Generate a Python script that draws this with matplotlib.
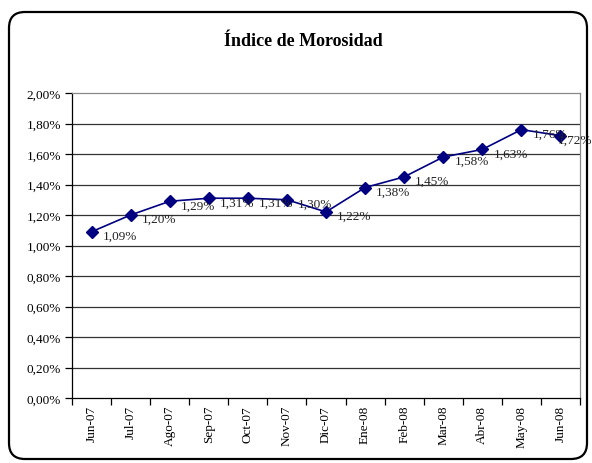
import matplotlib
matplotlib.use("Agg")
import matplotlib.pyplot as plt
from matplotlib.patches import FancyBboxPatch
from matplotlib.transforms import IdentityTransform
import numpy as np

categories = ["Jun-07", "Jul-07", "Ago-07", "Sep-07", "Oct-07", "Nov-07", "Dic-07",
              "Ene-08", "Feb-08", "Mar-08", "Abr-08", "May-08", "Jun-08"]
values = [1.09, 1.20, 1.29, 1.31, 1.31, 1.30, 1.22, 1.38, 1.45, 1.58, 1.63, 1.76, 1.72]
yticks = [0.0, 0.2, 0.4, 0.6, 0.8, 1.0, 1.2, 1.4, 1.6, 1.8, 2.0]
title = "Índice de Morosidad"

plt.rcParams['font.family'] = ['Liberation Serif', 'DejaVu Serif']

W, H = 592, 464
fig = plt.figure(figsize=(W / 100, H / 100), dpi=100)

# rounded outer frame (pixel coordinates)
frame = FancyBboxPatch((9, 4), 578, 447, boxstyle="round,pad=0,rounding_size=16",
                       transform=IdentityTransform(), fill=False, edgecolor="black",
                       linewidth=1.6, zorder=0)
fig.patches.append(frame)

ax = fig.add_axes([72 / W, (H - 399) / H, (580 - 72) / W, (399 - 94) / H])
x = np.arange(len(categories))
ax.plot(x, values, color="#000080", linewidth=1.2, marker="D", markersize=6,
        markerfacecolor="#000080", markeredgecolor="#000080", zorder=3)

n = len(values)
for i, (xi, v) in enumerate(zip(x, values)):
    dx = 8 if i < n - 1 else -2
    ax.annotate(f"{v:.2f}%".replace(".", ","), (xi, v), xytext=(dx, -3),
                textcoords="offset points", ha="left", va="center",
                fontsize=9.5, color="#222222", zorder=4)

ax.set_xlim(-0.5, len(categories) - 0.5)
ax.set_ylim(0, 2.0)
ax.set_yticks(yticks)
ax.set_yticklabels([f"{t:.2f}%".replace(".", ",") for t in yticks], fontsize=9.5)
for t in yticks[1:-1]:
    ax.axhline(t, color="#333333", linewidth=0.9, zorder=1)

ax.set_xticks(np.arange(-0.5, len(categories), 1.0))
ax.set_xticklabels([])
ax.set_xticks(x, minor=True)
ax.set_xticklabels(categories, minor=True, rotation=90, fontsize=9.5)
ax.tick_params(axis="x", which="minor", length=0, pad=5)
ax.tick_params(axis="x", which="major", length=5, direction="out", width=0.9)
ax.tick_params(axis="y", length=5, direction="out", width=0.9, pad=3)

for side in ["top", "right"]:
    ax.spines[side].set_color("#888888")
    ax.spines[side].set_linewidth(0.9)
for side in ["left", "bottom"]:
    ax.spines[side].set_color("black")
    ax.spines[side].set_linewidth(0.9)

fig.text(0.513, (H - 42) / H, title, ha="center", va="center", fontsize=13,
         fontweight="bold")

fig.savefig("out.png", dpi=100)
